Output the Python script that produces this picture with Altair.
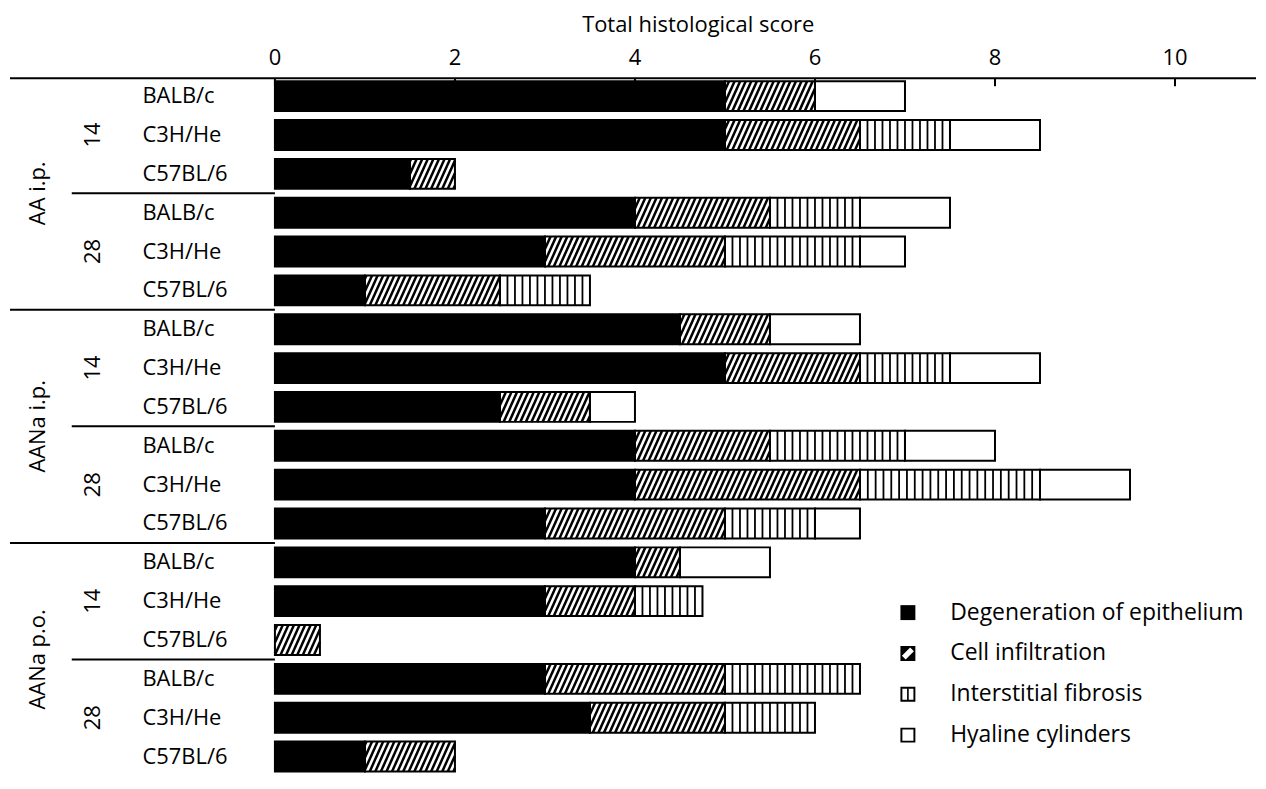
import altair as alt
import pandas as pd
import numpy as np

# ---------------- data ----------------
groups = ["AA i.p."] * 6 + ["AANa i.p."] * 6 + ["AANa p.o."] * 6
days = ["14", "14", "14", "28", "28", "28"] * 3
strains = ["BALB/c", "C3H/He", "C57BL/6"] * 6

degeneration = [5, 5, 1.5, 4, 3, 1, 4.5, 5, 2.5, 4, 4, 3, 4, 3, 0, 3, 3.5, 1]
infiltration = [1, 1.5, 0.5, 1.5, 2, 1.5, 1, 1.5, 1, 1.5, 2.5, 2, 0.5, 1, 0.5, 2, 1.5, 1]
fibrosis = [0, 1, 0, 1, 1.5, 1, 0, 1, 0, 1.5, 2, 1, 0, 0.75, 0, 1.5, 1, 0]
hyaline = [1, 1, 0, 1, 0.5, 0, 1, 1, 0.5, 1, 1, 0.5, 1, 0, 0, 0, 0, 0]

categories = ["Degeneration of epithelium", "Cell infiltration",
              "Interstitial fibrosis", "Hyaline cylinders"]
x_ticks = [0, 2, 4, 6, 8, 10]
x_title = "Total histological score"

# ---------------- layout constants ----------------
FONT = "Open Sans"
FS = 22
W, H = 985, 697
XMAX = 10.9
ROW_PX = 39.0
Y0 = -18.0 / ROW_PX
Y1 = Y0 + H / ROW_PX
HB = 15.0 / ROW_PX
KX = W / XMAX

xs = alt.Scale(domain=[0, XMAX], nice=False, zero=False)
ys = alt.Scale(domain=[Y0, Y1], reverse=True, nice=False, zero=False)

# ---------------- build tables ----------------
series = [degeneration, infiltration, fibrosis, hyaline]
seg_rows = []
for i in range(len(strains)):
    start = 0.0
    for c, vals in zip(categories, series):
        v = vals[i]
        if v > 0:
            seg_rows.append(dict(row=i, cat=c, x0=start, x1=start + v,
                                 ylo=i - HB, yhi=i + HB))
        start += v
seg = pd.DataFrame(seg_rows)

# diagonal hatch for cell infiltration
SP = 5.6 / KX
DX = 13.5 / KX
hatch = []
for _, s in seg[seg.cat == categories[1]].iterrows():
    a, b, r = s.x0, s.x1, s.row
    t = np.floor((a - DX) / SP) * SP
    while t < b:
        u0 = max(0.0, (a - t) / DX)
        u1 = min(1.0, (b - t) / DX)
        if u1 - u0 > 1e-6:
            hatch.append(dict(x=t + u0 * DX, x2=t + u1 * DX,
                              y=r + HB - u0 * 2 * HB, y2=r + HB - u1 * 2 * HB))
        t += SP
hatch = pd.DataFrame(hatch)

# vertical stripes for interstitial fibrosis
vlines = []
for _, s in seg[seg.cat == categories[2]].iterrows():
    a, b, r = s.x0, s.x1, s.row
    n = max(2, int(round((b - a) * KX / 7.7)))
    for k in range(1, n):
        vlines.append(dict(x=a + k * (b - a) / n, y=r - HB, y2=r + HB))
vlines = pd.DataFrame(vlines)

rowdf = pd.DataFrame(dict(row=range(len(strains)), strain=strains, group=groups, day=days))
daydf = rowdf.groupby(["group", "day"], as_index=False)["row"].mean()
grpdf = rowdf.groupby("group", as_index=False)["row"].mean()

major, minor = [], []
for i in range(1, len(strains)):
    if groups[i] != groups[i - 1]:
        major.append(i - 0.5)
    elif days[i] != days[i - 1]:
        minor.append(i - 0.5)
majdf = pd.DataFrame(dict(y=major))
mindf = pd.DataFrame(dict(y=minor))

tickdf = pd.DataFrame(dict(x=x_ticks, label=[str(v) for v in x_ticks]))
tickdf["y"] = Y0
tickdf["y2"] = Y0 + 8.0 / ROW_PX

# ---------------- layers ----------------
bars = alt.Chart(seg).mark_rect(strokeWidth=0).encode(
    x=alt.X("x0:Q", scale=xs, axis=None),
    x2="x1:Q",
    y=alt.Y("ylo:Q", scale=ys,
            axis=alt.Axis(orient="left", labels=False, ticks=False, grid=False,
                          domainColor="black", domainWidth=2, title=None)),
    y2="yhi:Q",
    fill=alt.condition(alt.datum.cat == categories[0], alt.value("black"), alt.value("white")),
)

ticks = alt.Chart(tickdf).mark_rule(color="black", strokeWidth=2).encode(
    x=alt.X("x:Q", scale=xs, axis=None),
    y=alt.Y("y:Q", scale=ys, axis=None),
    y2="y2:Q",
)

tick_lab = alt.Chart(tickdf).mark_text(align="center", baseline="alphabetic", fontSize=FS,
                                        font=FONT, color="black").encode(
    x=alt.X("x:Q", scale=xs, axis=None), y=alt.value(-13), text="label:N")

title_txt = alt.Chart(pd.DataFrame(dict(t=[x_title]))).mark_text(
    align="center", baseline="alphabetic", fontSize=FS, font=FONT, color="black").encode(
    x=alt.value(425), y=alt.value(-46), text="t:N")

hatch_layer = alt.Chart(hatch).mark_rule(color="black", strokeWidth=2.5, strokeCap="butt").encode(
    x=alt.X("x:Q", scale=xs, axis=None), x2="x2:Q",
    y=alt.Y("y:Q", scale=ys, axis=None), y2="y2:Q",
)

vline_layer = alt.Chart(vlines).mark_rule(color="black", strokeWidth=1.8, strokeCap="butt").encode(
    x=alt.X("x:Q", scale=xs, axis=None),
    y=alt.Y("y:Q", scale=ys, axis=None), y2="y2:Q",
)

outline = alt.Chart(seg).mark_rect(fillOpacity=0, stroke="black", strokeWidth=2).encode(
    x=alt.X("x0:Q", scale=xs, axis=None), x2="x1:Q",
    y=alt.Y("ylo:Q", scale=ys, axis=None), y2="yhi:Q",
)

strain_txt = alt.Chart(rowdf).mark_text(align="left", baseline="middle", fontSize=FS,
                                         font=FONT, color="black").encode(
    x=alt.value(-133), y=alt.Y("row:Q", scale=ys, axis=None), text="strain:N")

day_txt = alt.Chart(daydf).mark_text(align="center", baseline="middle", angle=270,
                                      fontSize=FS, font=FONT, color="black").encode(
    x=alt.value(-183), y=alt.Y("row:Q", scale=ys, axis=None), text="day:N")

grp_txt = alt.Chart(grpdf).mark_text(align="center", baseline="middle", angle=270,
                                      fontSize=FS, font=FONT, color="black").encode(
    x=alt.value(-238), y=alt.Y("row:Q", scale=ys, axis=None), text="group:N")

maj_rule = alt.Chart(majdf).mark_rule(color="black", strokeWidth=2).encode(
    y=alt.Y("y:Q", scale=ys, axis=None), x=alt.value(-266), x2=alt.value(0))
min_rule = alt.Chart(mindf).mark_rule(color="black", strokeWidth=2).encode(
    y=alt.Y("y:Q", scale=ys, axis=None), x=alt.value(-204), x2=alt.value(0))
top_rule = alt.Chart(pd.DataFrame(dict(a=[0]))).mark_rule(color="black", strokeWidth=2).encode(
    y=alt.value(0), x=alt.value(-266), x2=alt.value(W))

# legend symbols drawn as filled paths (holes give the white parts)
OUT = "M-1,-1H1V1H-1Z"
paths = [
    OUT,
    OUT + " M-0.8,0.3L-0.3,0.8L0.8,-0.3L0.3,-0.8Z",
    OUT + " M-0.74,-0.74V0.74H-0.11V-0.74Z M0.11,-0.74V0.74H0.74V-0.74Z",
    OUT + " M-0.74,-0.74V0.74H0.74V-0.74Z",
]
leg = alt.Legend(orient="none", legendX=624, legendY=525, title=None,
                 labelFontSize=23, labelFont=FONT, labelColor="black", labelLimit=500,
                 symbolSize=225, symbolFillColor="black", symbolStrokeWidth=0,
                 symbolOpacity=1, rowPadding=17, labelOffset=31, padding=0)
legend_layer = alt.Chart(pd.DataFrame(dict(cat=categories))).mark_point(
    filled=True, opacity=0, color="black").encode(
    x=alt.value(0), y=alt.value(0),
    shape=alt.Shape("cat:N", scale=alt.Scale(domain=categories, range=paths), legend=leg),
)

chart = alt.layer(
    bars, ticks, hatch_layer, vline_layer, outline,
    tick_lab, title_txt,
    strain_txt, day_txt, grp_txt, maj_rule, min_rule, top_rule, legend_layer,
).properties(
    width=W, height=H,
    autosize=alt.AutoSizeParams(type="none"),
    padding={"left": 268, "top": 69, "right": 2, "bottom": 0},
).configure(font=FONT).configure_view(stroke=None)

chart.save("out.html", embed_options={"renderer": "svg", "actions": False})
